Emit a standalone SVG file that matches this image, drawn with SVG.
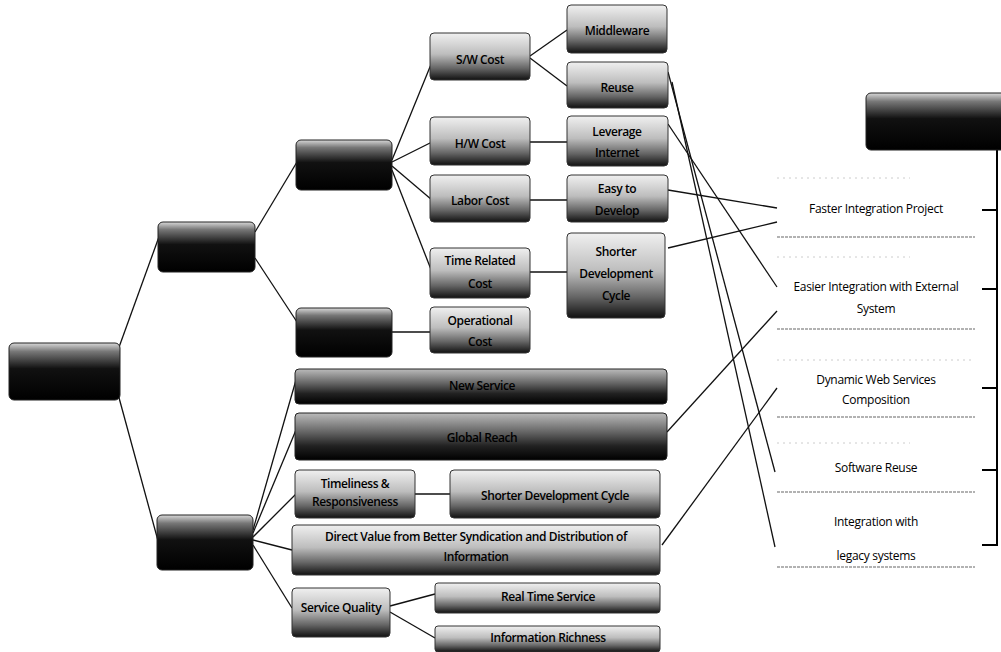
<svg xmlns="http://www.w3.org/2000/svg" width="1001" height="652" viewBox="0 0 1001 652">
<style>
.t{font-family:"Open Sans","Liberation Sans",sans-serif;font-size:12px;font-weight:600;fill:#000;text-anchor:middle;letter-spacing:-0.4px}
.tw{font-family:"Open Sans","Liberation Sans",sans-serif;font-size:12px;fill:#000;text-anchor:middle;letter-spacing:-0.3px}
.c{stroke:#111;stroke-width:1.3;fill:none}
.dk{fill:url(#gDark);stroke:#222;stroke-width:1}
.md{fill:url(#gMid);stroke:#333;stroke-width:1}
.br{fill:url(#gBar);stroke:#222;stroke-width:1}
.top{stroke:#ccc;stroke-width:1;stroke-dasharray:2 4}
.bot{stroke:#999;stroke-width:1.5;stroke-dasharray:3 1}
</style>
<defs>
<linearGradient id="gDark" x1="0" y1="0" x2="0" y2="1">
<stop offset="0" stop-color="#d8d8d8"/><stop offset="0.15" stop-color="#777"/><stop offset="0.45" stop-color="#111"/><stop offset="1" stop-color="#000"/>
</linearGradient>
<linearGradient id="gMid" x1="0" y1="0" x2="0" y2="1">
<stop offset="0" stop-color="#f0f0f0"/><stop offset="0.45" stop-color="#bdbdbd"/><stop offset="0.75" stop-color="#666"/><stop offset="1" stop-color="#111"/>
</linearGradient>
<linearGradient id="gBar" x1="0" y1="0" x2="0" y2="1">
<stop offset="0" stop-color="#bbb"/><stop offset="0.4" stop-color="#666"/><stop offset="0.7" stop-color="#222"/><stop offset="1" stop-color="#000"/>
</linearGradient>
</defs>
<rect width="1001" height="652" fill="#fff"/>

<g id="connectors">
<line class="c" x1="118" y1="350" x2="160" y2="234"/>
<line class="c" x1="118" y1="394" x2="160" y2="548"/>
<line class="c" x1="255" y1="232" x2="297" y2="162"/>
<line class="c" x1="255" y1="258" x2="297" y2="322"/>
<line class="c" x1="392" y1="160" x2="432" y2="62"/>
<line class="c" x1="392" y1="162" x2="432" y2="142"/>
<line class="c" x1="392" y1="166" x2="432" y2="200"/>
<line class="c" x1="392" y1="170" x2="432" y2="272"/>
<line class="c" x1="392" y1="332" x2="432" y2="332"/>
<line class="c" x1="530" y1="56" x2="567" y2="30"/>
<line class="c" x1="530" y1="58" x2="567" y2="86"/>
<line class="c" x1="530" y1="142" x2="567" y2="142"/>
<line class="c" x1="530" y1="200" x2="567" y2="200"/>
<line class="c" x1="530" y1="272" x2="567" y2="272"/>
<line class="c" x1="253" y1="530" x2="296" y2="380"/>
<line class="c" x1="253" y1="533" x2="296" y2="430"/>
<line class="c" x1="253" y1="537" x2="296" y2="494"/>
<line class="c" x1="253" y1="540" x2="292" y2="550"/>
<line class="c" x1="253" y1="545" x2="292" y2="608"/>
<line class="c" x1="415" y1="494" x2="450" y2="494"/>
<line class="c" x1="390" y1="606" x2="435" y2="594"/>
<line class="c" x1="390" y1="612" x2="435" y2="638"/>
<line class="c" x1="668" y1="72" x2="775" y2="472"/>
<line class="c" x1="672" y1="82" x2="775" y2="547"/>
<line class="c" x1="668" y1="124" x2="777" y2="287"/>
<line class="c" x1="668" y1="190" x2="777" y2="208"/>
<line class="c" x1="668" y1="248" x2="777" y2="222"/>
<line class="c" x1="667" y1="432" x2="777" y2="311"/>
<line class="c" x1="662" y1="545" x2="777" y2="388"/>
<path d="M997 150 V545 H982 M982 210 H997 M982 289 H997 M982 388 H997 M982 470 H997" fill="none" stroke="#000" stroke-width="2"/>
</g>

<g id="root"><rect class="dk" x="9" y="343" width="111" height="57" rx="5"/></g>
<g id="cost"><rect class="dk" x="158" y="222" width="97" height="50" rx="5"/></g>
<g id="development"><rect class="dk" x="296" y="140" width="96" height="50" rx="5"/></g>
<g id="operation"><rect class="dk" x="296" y="308" width="96" height="49" rx="5"/></g>
<g id="revenue"><rect class="dk" x="157" y="515" width="96" height="55" rx="5"/></g>

<g id="sw-cost"><rect class="md" x="430" y="33" width="100" height="47" rx="4"/><text class="t" x="480" y="64">S/W Cost</text></g>
<g id="middleware"><rect class="md" x="567" y="5" width="100" height="48" rx="4"/><text class="t" x="617" y="35">Middleware</text></g>
<g id="reuse"><rect class="md" x="567" y="62" width="101" height="46" rx="4"/><text class="t" x="617" y="92">Reuse</text></g>
<g id="hw-cost"><rect class="md" x="430" y="117" width="100" height="48" rx="4"/><text class="t" x="480" y="148">H/W Cost</text></g>
<g id="leverage"><rect class="md" x="567" y="116" width="101" height="50" rx="4"/><text class="t" x="617" y="136">Leverage</text><text class="t" x="617" y="157">Internet</text></g>
<g id="labor-cost"><rect class="md" x="430" y="175" width="100" height="47" rx="4"/><text class="t" x="480" y="205">Labor Cost</text></g>
<g id="easy"><rect class="md" x="567" y="175" width="101" height="47" rx="4"/><text class="t" x="617" y="193">Easy to</text><text class="t" x="617" y="215">Develop</text></g>
<g id="time-cost"><rect class="md" x="430" y="248" width="100" height="50" rx="4"/><text class="t" x="480" y="265">Time Related</text><text class="t" x="480" y="288">Cost</text></g>
<g id="shorter1"><rect class="md" x="567" y="233" width="98" height="85" rx="4"/><text class="t" x="616" y="256">Shorter</text><text class="t" x="616" y="278">Development</text><text class="t" x="616" y="300">Cycle</text></g>
<g id="op-cost"><rect class="md" x="430" y="307" width="100" height="46" rx="4"/><text class="t" x="480" y="325">Operational</text><text class="t" x="480" y="346">Cost</text></g>

<g id="new-service"><rect class="br" x="295" y="369" width="372" height="35" rx="4"/><text class="t" x="482" y="390" fill="#222">New Service</text></g>
<g id="global-reach"><rect class="br" x="295" y="413" width="372" height="47" rx="4"/><text class="t" x="482" y="442" fill="#222">Global Reach</text></g>
<g id="timeliness"><rect class="md" x="295" y="470" width="120" height="48" rx="4"/><text class="t" x="355" y="488">Timeliness &amp;</text><text class="t" x="355" y="506">Responsiveness</text></g>
<g id="shorter2"><rect class="md" x="450" y="470" width="210" height="48" rx="4"/><text class="t" x="555" y="500">Shorter Development Cycle</text></g>
<g id="direct-value"><rect class="md" x="292" y="525" width="368" height="50" rx="4"/><text class="t" x="476" y="541">Direct Value from Better Syndication and Distribution of</text><text class="t" x="476" y="561">Information</text></g>
<g id="service-quality"><rect class="md" x="292" y="588" width="98" height="49" rx="4"/><text class="t" x="341" y="612">Service Quality</text></g>
<g id="real-time"><rect class="md" x="435" y="583" width="225" height="30" rx="3"/><text class="t" x="548" y="601">Real Time Service</text></g>
<g id="info-richness"><rect class="md" x="435" y="626" width="225" height="26" rx="3"/><text class="t" x="548" y="642">Information Richness</text></g>

<g id="tech-benefit"><rect class="dk" x="866" y="93" width="140" height="57" rx="5"/></g>
<g id="faster"><line class="top" x1="777" y1="178" x2="910" y2="178"/><text class="tw" x="876" y="213">Faster Integration Project</text><line class="bot" x1="777" y1="237" x2="975" y2="237"/></g>
<g id="easier"><line class="top" x1="777" y1="257" x2="910" y2="257"/><text class="tw" x="876" y="291">Easier Integration with External</text><text class="tw" x="876" y="313">System</text><line class="bot" x1="777" y1="329" x2="975" y2="329"/></g>
<g id="dynamic"><line class="top" x1="777" y1="360" x2="975" y2="360"/><text class="tw" x="876" y="384">Dynamic Web Services</text><text class="tw" x="876" y="404">Composition</text><line class="bot" x1="777" y1="417" x2="975" y2="417"/></g>
<g id="software-reuse"><line class="top" x1="777" y1="443" x2="910" y2="443"/><text class="tw" x="876" y="472">Software Reuse</text><line class="bot" x1="777" y1="492" x2="975" y2="492"/></g>
<g id="legacy"><text class="tw" x="876" y="526">Integration with</text><text class="tw" x="876" y="560">legacy systems</text><line class="bot" x1="777" y1="567" x2="975" y2="567"/></g>
</svg>
